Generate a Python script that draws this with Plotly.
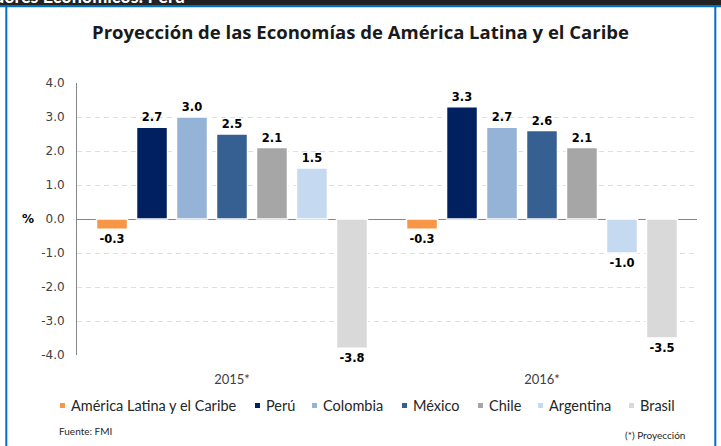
import plotly.graph_objects as go

# ---- data ----
categories = ["2015*", "2016*"]
series_names = ["América Latina y el Caribe", "Perú", "Colombia", "México", "Chile", "Argentina", "Brasil"]
v_alc = [-0.3, -0.3]
v_peru = [2.7, 3.3]
v_colombia = [3.0, 2.7]
v_mexico = [2.5, 2.6]
v_chile = [2.1, 2.1]
v_argentina = [1.5, -1.0]
v_brasil = [-3.8, -3.5]
series_values = [v_alc, v_peru, v_colombia, v_mexico, v_chile, v_argentina, v_brasil]
y_ticks = [4, 3, 2, 1, 0, -1, -2, -3, -4]
y_tick_labels = ["4.0", "3.0", "2.0", "1.0", "0.0", "-1.0", "-2.0", "-3.0", "-4.0"]

# ---- styles ----
colors = ["#F79646", "#002060", "#95B3D7", "#366092", "#A6A6A6", "#C5D9F1", "#D9D9D9"]
W, H = 721, 446
L, R, T, B = 77, 24, 83, 91
PW, PH = W - L - R, H - T - B

def px(x):
    return (x - L) / PW

def py(y):
    return (H - B - y) / PH

fig = go.Figure()
for name, vals, col in zip(series_names, series_values, colors):
    fig.add_trace(go.Bar(
        x=categories, y=vals, name=name,
        marker=dict(color=col, line=dict(color="white", width=1.5)),
        text=[f"{v:.1f}" for v in vals], textposition="outside",
        textfont=dict(family="DejaVu Sans", size=11.5, color="black", weight="bold"),
        cliponaxis=False, showlegend=False,
    ))

shapes = []
annotations = []

# header strip and frame
shapes.append(dict(type="rect", xref="paper", yref="paper", x0=px(0), x1=px(W), y0=py(0), y1=py(5.7),
                   fillcolor="#222222", line=dict(width=0), layer="below"))
shapes.append(dict(type="rect", xref="paper", yref="paper", x0=px(0), x1=px(W), y0=py(5.7), y1=py(7.3),
                   fillcolor="#0070C0", line=dict(width=0), layer="below"))
shapes.append(dict(type="rect", xref="paper", yref="paper", x0=px(5.3), x1=px(7.3), y0=py(5.7), y1=py(H),
                   fillcolor="#0070C0", line=dict(width=0), layer="below"))
shapes.append(dict(type="rect", xref="paper", yref="paper", x0=px(714.3), x1=px(716.3), y0=py(5.7), y1=py(H),
                   fillcolor="#0070C0", line=dict(width=0), layer="below"))
annotations.append(dict(text="<b>Indicadores Económicos: Perú</b>", xref="paper", yref="paper",
                        x=px(187), y=py(-4), xanchor="right", yanchor="middle", showarrow=False,
                        font=dict(family="Lato", size=18, color="white")))

# manual legend
legend_x = [60, 255, 312, 402, 478, 538, 629]
for name, col, lx in zip(series_names, colors, legend_x):
    shapes.append(dict(type="rect", xref="paper", yref="paper", x0=px(lx), x1=px(lx + 5),
                       y0=py(408), y1=py(403), fillcolor=col, line=dict(width=0)))
    annotations.append(dict(text=name, xref="paper", yref="paper", x=px(lx + 9), y=py(405.5),
                            xanchor="left", yanchor="middle", showarrow=False,
                            font=dict(family="Lato", size=14.5, color="#262626")))

annotations.append(dict(text="<b>%</b>", xref="paper", yref="paper", x=px(28), y=py(219),
                        xanchor="center", yanchor="middle", showarrow=False,
                        font=dict(family="DejaVu Sans", size=12, color="black")))
annotations.append(dict(text="Fuente: FMI", xref="paper", yref="paper", x=px(57), y=py(431),
                        xanchor="left", yanchor="middle", showarrow=False,
                        font=dict(family="Lato", size=10, color="#262626")))
annotations.append(dict(text="(*) Proyección", xref="paper", yref="paper", x=px(687), y=py(435),
                        xanchor="right", yanchor="middle", showarrow=False,
                        font=dict(family="Lato", size=10, color="#262626")))

fig.update_layout(
    width=W, height=H,
    margin=dict(l=L, r=R, t=T, b=B, pad=0),
    paper_bgcolor="white", plot_bgcolor="white",
    barmode="group", bargap=0.097, bargroupgap=0.225,
    title=dict(text="<b>Proyección de las Economías de América Latina y el Caribe</b>",
               x=0.5, xref="container", y=1 - 33 / H, yref="container", yanchor="middle", xanchor="center",
               font=dict(family="Open Sans", size=18.5, color="#1a1a1a")),
    shapes=shapes, annotations=annotations,
    showlegend=False,
)
fig.update_xaxes(showline=False, showgrid=False, ticks="", ticklabelstandoff=15,
                 tickfont=dict(family="Lato", size=13, color="#404040"))
fig.update_yaxes(range=[-4, 4], tickvals=y_ticks, ticktext=y_tick_labels,
                 showgrid=True, gridcolor="#FAD7BD", griddash="5px,4px", gridwidth=1,
                 zeroline=True, zerolinecolor="#868686", zerolinewidth=1,
                 showline=True, linecolor="#868686", linewidth=1,
                 ticks="", ticklabelstandoff=9,
                 tickfont=dict(family="DejaVu Sans", size=12, color="#404040"))

fig.write_html("out.html", config={"displayModeBar": False},
               post_script="document.body.style.margin='0';")
